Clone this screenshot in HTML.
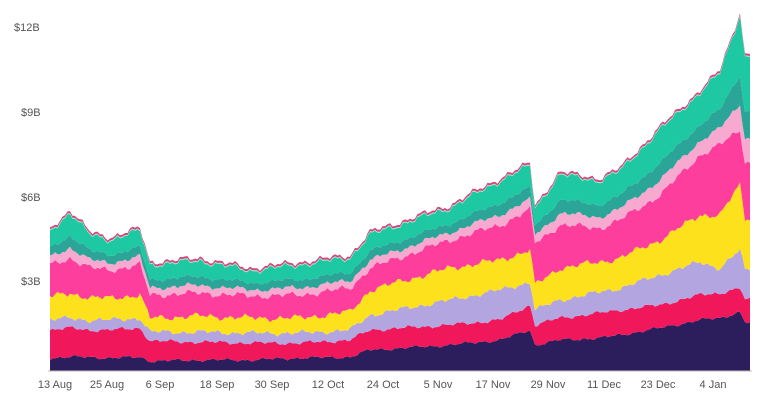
<!DOCTYPE html><html><head><meta charset="utf-8"><style>
body{margin:0;background:#fff;width:768px;height:400px;overflow:hidden;font-family:"Liberation Sans",sans-serif}
text{font-family:"Liberation Sans",sans-serif;font-size:11px;fill:#555}
</style></head><body>
<svg id="s" width="768" height="400" xmlns="http://www.w3.org/2000/svg">
<text x="14" y="31">$12B</text><text x="21" y="116">$9B</text><text x="21" y="201">$6B</text><text x="21" y="285">$3B</text>
<g id="g"></g>
<line x1="48" y1="371" x2="752" y2="371" stroke="#bbb" stroke-width="1"/>
<g text-anchor="middle">
<text x="55" y="388">13 Aug</text><text x="107" y="388">25 Aug</text><text x="160" y="388">6 Sep</text><text x="217" y="388">18 Sep</text><text x="272" y="388">30 Sep</text><text x="328" y="388">12 Oct</text><text x="383" y="388">24 Oct</text><text x="438" y="388">5 Nov</text><text x="493" y="388">17 Nov</text><text x="548" y="388">29 Nov</text><text x="604" y="388">11 Dec</text><text x="658" y="388">23 Dec</text><text x="713" y="388">4 Jan</text>
</g>
</svg>
<script>
var K=[50,70,90,110,140,150,200,250,300,350,370,450,500,530,535,560,600,620,660,700,720,740,745,750];
var top_=[228,210,232,237,228,262,258,268,262,255,232,205,178,163,205,172,178,168,127,90,70,12,55,52];
var navy=[358,357,357,358,357,361,360,360,358,357,350,345,340,330,345,340,338,335,328,320,318,312,322,323];
var red=[330,328,330,330,328,341,342,343,343,340,330,325,320,305,325,318,313,310,305,295,293,288,300,300];
var lav=[320,318,320,320,318,332,332,333,333,330,315,300,290,282,310,300,292,288,275,262,268,250,270,270];
var yel=[297,293,298,298,295,318,316,318,318,312,290,268,260,250,285,268,262,258,240,215,215,185,218,218];
var pink=[265,258,268,270,265,295,293,296,295,288,268,240,225,210,243,225,228,220,195,155,145,130,162,162];
function interp(arr,x){for(var i=0;i<K.length-1;i++){if(x<=K[i+1]){var t=(x-K[i])/(K[i+1]-K[i]);return arr[i]+(arr[i+1]-arr[i])*t;}}return arr[arr.length-1];}
var xs=[];for(var x=50;x<=750;x+=2.5)xs.push(x);
function noise(x,s){return Math.sin(x*0.9+s)*1.2+Math.sin(x*0.37+s*2)*1.8+Math.sin(x*0.13+s)*1.5;}
var B=[];
B.push(xs.map(function(){return 371}));
B.push(xs.map(function(x){return interp(navy,x)+noise(x,1)*0.5}));
B.push(xs.map(function(x){return interp(red,x)+noise(x,2)*0.6}));
B.push(xs.map(function(x){return interp(lav,x)+noise(x,3)*0.8}));
B.push(xs.map(function(x){return interp(yel,x)+noise(x,4)}));
B.push(xs.map(function(x){return interp(pink,x)+noise(x,5)}));
var T=xs.map(function(x){return interp(top_,x)+noise(x,6)});
B.push(xs.map(function(x,i){var p=B[5][i],t=T[i];return p-(p-t)*0.22}));
B.push(xs.map(function(x,i){var p=B[5][i],t=T[i];return p-(p-t)*0.47}));
B.push(xs.map(function(x,i){return T[i]+3}));
B.push(xs.map(function(x,i){return T[i]+2}));
B.push(T);
var cols=["#2c1d5d","#f0175b","#b3a6e0","#fde11c","#fd3e9c","#f8a9cf","#2aa597","#1ec8a2","#9fe3c4","#d4467c"];
var g=document.getElementById('g'),h='';
for(var k=1;k<B.length;k++){var up=B[k],lo=B[k-1];var d='M'+xs[0]+','+lo[0];
for(var i=0;i<xs.length;i++)d+='L'+xs[i]+','+up[i].toFixed(1);
for(var i=xs.length-1;i>=0;i--)d+='L'+xs[i]+','+lo[i].toFixed(1);
h+='<path d="'+d+'Z" fill="'+cols[k-1]+'"/>';}
g.innerHTML=h;
</script>
</body></html>
